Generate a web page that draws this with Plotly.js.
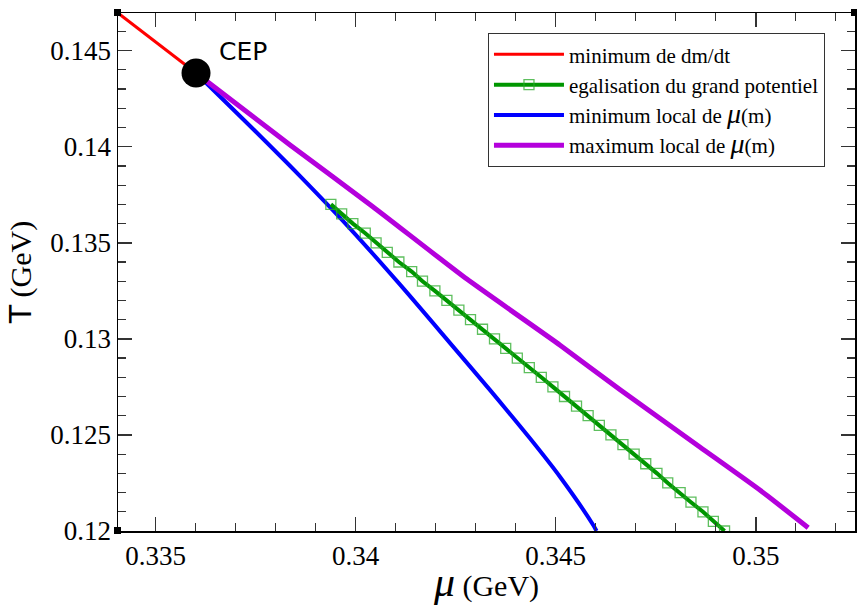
<!DOCTYPE html>
<html>
<head>
<meta charset="utf-8">
<script src="https://cdn.plot.ly/plotly-3.0.1.min.js"></script>
<style>
html,body{margin:0;padding:0;background:#fff;}
#chart{width:857px;height:605px;}
#chart .xtick text, #chart .ytick text, #chart .legendtext, #chart .legendtext tspan {
  font-family: 'Liberation Serif', 'Times New Roman', serif !important;
}
</style>
</head>
<body>
<div id="chart"></div>
<script>
// ---- data (mu in GeV, T in GeV) ----
var cepMu = [0.33601];
var cepT = [0.14384];

var redMu = [0.33406, 0.33601];
var redT = [0.14696, 0.14384];

var blueMu = [0.33601, 0.33736, 0.33861, 0.33986, 0.34111, 0.34236, 0.34336, 0.34436, 0.34511, 0.34594, 0.34602];
var blueT = [0.14384, 0.14108, 0.13847, 0.13574, 0.13282, 0.12978, 0.12733, 0.12481, 0.12281, 0.12030, 0.12000];

var purpleMu = [0.33601, 0.33836, 0.34043, 0.34278, 0.34511, 0.34661, 0.34861, 0.35011, 0.35131];
var purpleT = [0.14384, 0.14009, 0.13688, 0.13311, 0.12967, 0.12735, 0.12436, 0.12212, 0.12017];

var greenMu = [0.33938, 0.33965, 0.33993, 0.34024, 0.34051, 0.34079, 0.34108, 0.34140, 0.34167, 0.34198,
               0.34228, 0.34258, 0.34287, 0.34317, 0.34347, 0.34375, 0.34404, 0.34434, 0.34464, 0.34493,
               0.34522, 0.34552, 0.34581, 0.34609, 0.34638, 0.34668, 0.34696, 0.34725, 0.34753, 0.34780,
               0.34811, 0.34838, 0.34868, 0.34894, 0.34922];
var greenT = [0.1370, 0.1365, 0.1360, 0.1355, 0.1350, 0.1345, 0.1340, 0.1335, 0.1330, 0.1325,
              0.1320, 0.1315, 0.1310, 0.1305, 0.1300, 0.1295, 0.1290, 0.1285, 0.1280, 0.1275,
              0.1270, 0.1265, 0.1260, 0.1255, 0.1250, 0.1245, 0.1240, 0.1235, 0.1230, 0.1225,
              0.1220, 0.1215, 0.1210, 0.1205, 0.1200];

var xTickVals = [0.335, 0.34, 0.345, 0.35];
var xTickText = ["0.335", "0.34", "0.345", "0.35"];
var yTickVals = [0.12, 0.125, 0.13, 0.135, 0.14, 0.145];
var yTickText = ["0.12", "0.125", "0.13", "0.135", "0.14", "0.145"];

var seriesNames = [
  "minimum de dm/dt",
  "egalisation du grand potentiel",
  "minimum local de <span style=\"font-size:28px\"><i>μ</i></span>(m)",
  "maximum local de <span style=\"font-size:28px\"><i>μ</i></span>(m)"
];

var SERIF = "Liberation Serif";
var SANS = "DejaVu Sans";

var traces = [
  {x: redMu, y: redT, mode: "lines", name: seriesNames[0], legendrank: 1,
   line: {color: "#ff0000", width: 3}},
  {x: blueMu, y: blueT, mode: "lines", name: seriesNames[2], legendrank: 3,
   line: {color: "#0000ff", width: 4, shape: "spline", smoothing: 0.8}},
  {x: purpleMu, y: purpleT, mode: "lines", name: seriesNames[3], legendrank: 4,
   line: {color: "#b400dc", width: 5, shape: "spline", smoothing: 0.5}},
  {x: greenMu, y: greenT, mode: "lines+markers", name: seriesNames[1], legendrank: 2,
   line: {color: "#009600", width: 4},
   marker: {symbol: "square-open", size: 10, color: "rgba(40,170,40,0.75)", line: {width: 1.3, color: "rgba(40,170,40,0.75)"}}},
  {x: cepMu, y: cepT, mode: "markers", showlegend: false,
   marker: {color: "#000000", size: 29, symbol: "circle"}}
];

function axisBase() {
  return {
    showgrid: false, zeroline: false,
    showline: true, linecolor: "#000", linewidth: 1.5,
    mirror: "allticks", ticks: "inside", ticklen: 14, tickwidth: 1.5, tickcolor: "#333",
    tickmode: "array",
    tickfont: {family: SERIF, size: 27, color: "#000"}
  };
}

function cornerBox(px, py) {
  return {type: "rect", xref: "paper", yref: "paper", xsizemode: "pixel", ysizemode: "pixel",
          xanchor: px, yanchor: py, x0: -4, x1: 3, y0: -3, y1: 4,
          fillcolor: "#000", line: {width: 0}};
}

var xaxis = axisBase();
xaxis.range = [0.33406, 0.35248];
xaxis.tickvals = xTickVals;
xaxis.ticktext = xTickText;
xaxis.minor = {dtick: 0.001, tick0: 0.335, ticks: "inside", ticklen: 8, tickwidth: 1.2, tickcolor: "#333"};
xaxis.title = {text: "<span style=\"font-size:42px\"><i>μ</i></span> (GeV)", standoff: 4,
               font: {family: SERIF, size: 30, color: "#000"}};

var yaxis = axisBase();
yaxis.range = [0.12, 0.14696];
yaxis.tickvals = yTickVals;
yaxis.ticktext = yTickText;
yaxis.minor = {dtick: 0.001, tick0: 0.12, ticks: "inside", ticklen: 8, tickwidth: 1.2, tickcolor: "#333"};
yaxis.title = {text: "<span style=\"font-family:DejaVu Sans\">T</span> (GeV)", standoff: 10,
               font: {family: SERIF, size: 30, color: "#000"}};

var layout = {
  width: 857, height: 605,
  font: {family: SERIF, color: "#000"},
  margin: {l: 118, r: 2, t: 13, b: 74},
  paper_bgcolor: "#fff", plot_bgcolor: "#fff",
  showlegend: true,
  legend: {
    x: 0.502, y: 0.961, xanchor: "left", yanchor: "top",
    bgcolor: "#fff", bordercolor: "#333", borderwidth: 1,
    font: {family: SERIF, size: 21, color: "#000"},
    itemwidth: 70,
    tracegroupgap: 0
  },
  xaxis: xaxis,
  yaxis: yaxis,
  shapes: [cornerBox(0, 1), cornerBox(0, 0), cornerBox(1, 1)],
  annotations: [
    {x: cepMu[0], y: cepT[0], xref: "x", yref: "y", text: "CEP", showarrow: false,
     xanchor: "left", yanchor: "middle", xshift: 21, yshift: 21,
     font: {family: SANS, size: 25, color: "#000"}}
  ]
};

Plotly.newPlot("chart", traces, layout, {displayModeBar: false, staticPlot: true});
</script>
</body>
</html>
